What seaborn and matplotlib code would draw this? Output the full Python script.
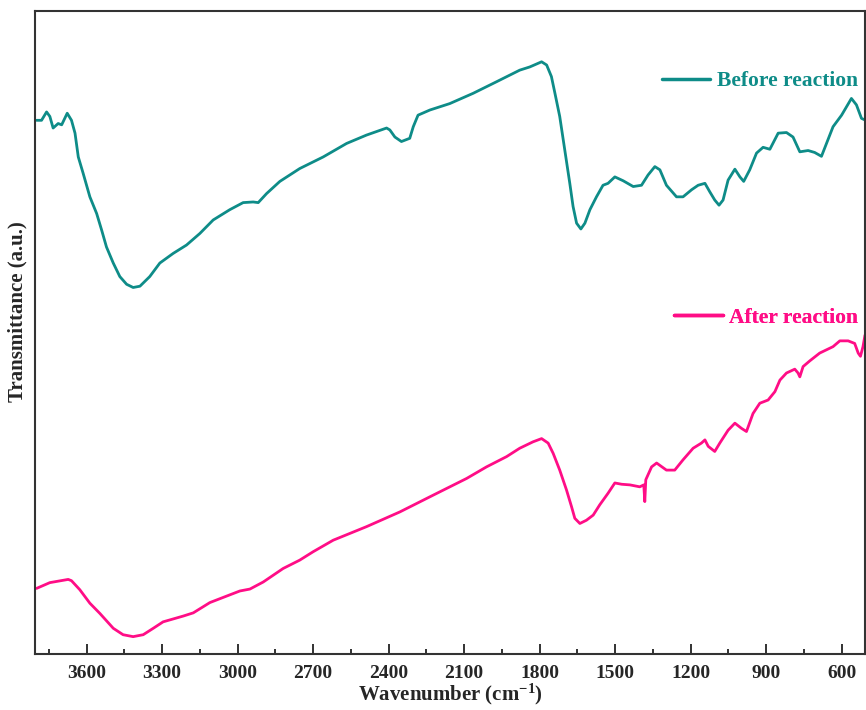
import numpy as np
import pandas as pd
import matplotlib
matplotlib.use("Agg")
import matplotlib.pyplot as plt
from matplotlib.lines import Line2D
from matplotlib.ticker import MultipleLocator
import seaborn as sns

# FTIR spectra (wavenumber in cm^-1, transmittance in arbitrary units)
before_wn = [3799, 3779, 3759, 3746, 3733, 3713, 3699, 3677, 3660, 3646, 3633, 3614,
             3587, 3560, 3540, 3521, 3494, 3468, 3441, 3415, 3388, 3349, 3309, 3256,
             3203, 3150, 3097, 3031, 2978, 2938, 2918, 2885, 2832, 2753, 2660, 2567,
             2488, 2408, 2395, 2375, 2349, 2316, 2302, 2283, 2236, 2157, 2064, 1971,
             1879, 1839, 1792, 1772, 1753, 1739, 1720, 1700, 1680, 1667, 1653, 1636,
             1620, 1600, 1574, 1548, 1528, 1501, 1468, 1428, 1395, 1369, 1342, 1322,
             1296, 1256, 1230, 1196, 1170, 1143, 1124, 1104, 1087, 1071, 1051, 1024,
             1004, 989, 965, 938, 912, 885, 852, 819, 793, 766, 733, 707, 680, 660,
             634, 600, 561, 541, 521, 504]
before_t = [83.0, 83.0, 84.3, 83.6, 81.8, 82.5, 82.3, 84.1, 83.0, 81.0, 77.3, 74.8,
            71.1, 68.5, 65.9, 63.3, 60.8, 58.7, 57.5, 57.0, 57.2, 58.7, 60.8, 62.3,
            63.6, 65.4, 67.5, 69.1, 70.2, 70.3, 70.2, 71.6, 73.5, 75.5, 77.3, 79.4,
            80.7, 81.8, 81.5, 80.4, 79.7, 80.2, 82.0, 83.8, 84.6, 85.6, 87.2, 89.0,
            90.8, 91.3, 92.1, 91.6, 89.8, 87.2, 83.6, 78.4, 73.2, 69.6, 67.0, 66.1,
            67.0, 69.1, 71.1, 72.9, 73.2, 74.2, 73.6, 72.7, 72.9, 74.5, 75.8, 75.3,
            72.9, 71.1, 71.1, 72.2, 72.9, 73.2, 71.9, 70.6, 69.8, 70.6, 73.7, 75.4,
            74.2, 73.5, 75.3, 77.9, 78.8, 78.5, 81.0, 81.1, 80.4, 78.1, 78.3, 78.0,
            77.4, 79.4, 82.0, 83.8, 86.4, 85.4, 83.3, 83.0]

after_wn = [3799, 3746, 3673, 3660, 3627, 3587, 3547, 3494, 3455, 3415, 3375, 3335,
            3296, 3216, 3176, 3110, 3044, 2991, 2951, 2898, 2819, 2753, 2700, 2620,
            2488, 2355, 2223, 2090, 2011, 1931, 1879, 1826, 1792, 1766, 1746, 1720,
            1693, 1673, 1660, 1640, 1614, 1587, 1561, 1528, 1501, 1474, 1441, 1402,
            1386, 1382, 1378, 1355, 1335, 1296, 1263, 1230, 1190, 1157, 1143, 1130,
            1104, 1084, 1051, 1024, 998, 978, 952, 925, 892, 865, 845, 819, 786,
            773, 766, 753, 726, 687, 634, 607, 574, 548, 534, 525, 515, 507]
after_t = [10.2, 11.1, 11.6, 11.4, 10.0, 7.9, 6.3, 4.0, 3.0, 2.7, 3.0, 4.0,
           5.0, 5.9, 6.4, 8.0, 9.0, 9.8, 10.1, 11.2, 13.3, 14.6, 15.9, 17.7,
           19.8, 22.1, 24.7, 27.3, 29.1, 30.7, 32.0, 33.0, 33.5, 32.8, 31.2, 28.6,
           25.5, 22.9, 21.1, 20.3, 20.8, 21.6, 23.2, 25.0, 26.6, 26.4, 26.3, 26.0,
           26.3, 23.7, 27.1, 29.1, 29.7, 28.6, 28.6, 30.2, 32.0, 32.8, 33.3, 32.3,
           31.5, 32.8, 34.8, 35.9, 35.1, 34.6, 37.4, 39.0, 39.5, 40.8, 42.6, 43.7, 44.3,
           43.7, 43.1, 44.7, 45.6, 46.8, 47.8, 48.7, 48.7, 48.3, 46.8, 46.3, 47.8, 49.6]

series_names = ["Before reaction", "After reaction"]
series_colors = ["#0E8C88", "#FF0D86"]
x_ticks = [3600, 3300, 3000, 2700, 2400, 2100, 1800, 1500, 1200, 900, 600]

sns.set_theme(style="white")
plt.rcParams["font.family"] = ["Liberation Serif", "DejaVu Serif"]
plt.rcParams["font.weight"] = "bold"
plt.rcParams["mathtext.fontset"] = "custom"
plt.rcParams["mathtext.rm"] = "Liberation Serif:bold"
plt.rcParams["mathtext.bf"] = "Liberation Serif:bold"
plt.rcParams["mathtext.default"] = "bf"

before_df = pd.DataFrame({"wn": before_wn, "t": before_t})
after_df = pd.DataFrame({"wn": after_wn, "t": after_t})

fig = plt.figure(figsize=(8.66, 7.10), dpi=100)
ax = fig.add_axes([35 / 866, 56 / 710, 830 / 866, 643 / 710])

sns.lineplot(data=before_df, x="wn", y="t", ax=ax, color=series_colors[0],
             linewidth=2.0, estimator=None)
sns.lineplot(data=after_df, x="wn", y="t", ax=ax, color=series_colors[1],
             linewidth=2.0, estimator=None)

ax.set_xlim(3805, 507)
ax.set_ylim(0, 100)
ax.set_xticks(x_ticks)
ax.set_xticklabels([str(v) for v in x_ticks])
ax.xaxis.set_minor_locator(MultipleLocator(150))
ax.set_yticks([])
ax.tick_params(axis="x", which="major", direction="in", length=7, width=1.3,
               color="#222222", labelsize=14, pad=8, bottom=True, top=False)
ax.tick_params(axis="x", which="minor", direction="in", length=3.5, width=1.3,
               color="#222222", bottom=True, top=False)
for lab in ax.get_xticklabels():
    lab.set_fontweight("bold")

for side in ["left", "right", "top", "bottom"]:
    ax.spines[side].set_color("#333333")
    ax.spines[side].set_linewidth(1.5)
    ax.spines[side].set_visible(True)

ax.set_xlabel("Wavenumber (cm$^{-1}$)", fontsize=15, fontweight="bold", labelpad=0)
ax.set_ylabel("Transmittance (a.u.)", fontsize=15, fontweight="bold")
ax.yaxis.set_label_coords(-0.009, 0.533)

# one key per spectrum, placed next to its curve
def add_key(name, color, anchor):
    handle = Line2D([], [], color=color, linewidth=2.5)
    leg = ax.legend([handle], [name], loc="center right", bbox_to_anchor=anchor,
                    frameon=False, handlelength=2.25, handletextpad=0.3,
                    borderaxespad=0, borderpad=0,
                    prop={"family": "Liberation Serif", "weight": "bold", "size": 15.5})
    for txt in leg.get_texts():
        txt.set_color(color)
    ax.add_artist(leg)

add_key(series_names[0], series_colors[0], (0.9916, 0.891))
add_key(series_names[1], series_colors[1], (0.9916, 0.5226))

fig.savefig("out.png", dpi=100)
